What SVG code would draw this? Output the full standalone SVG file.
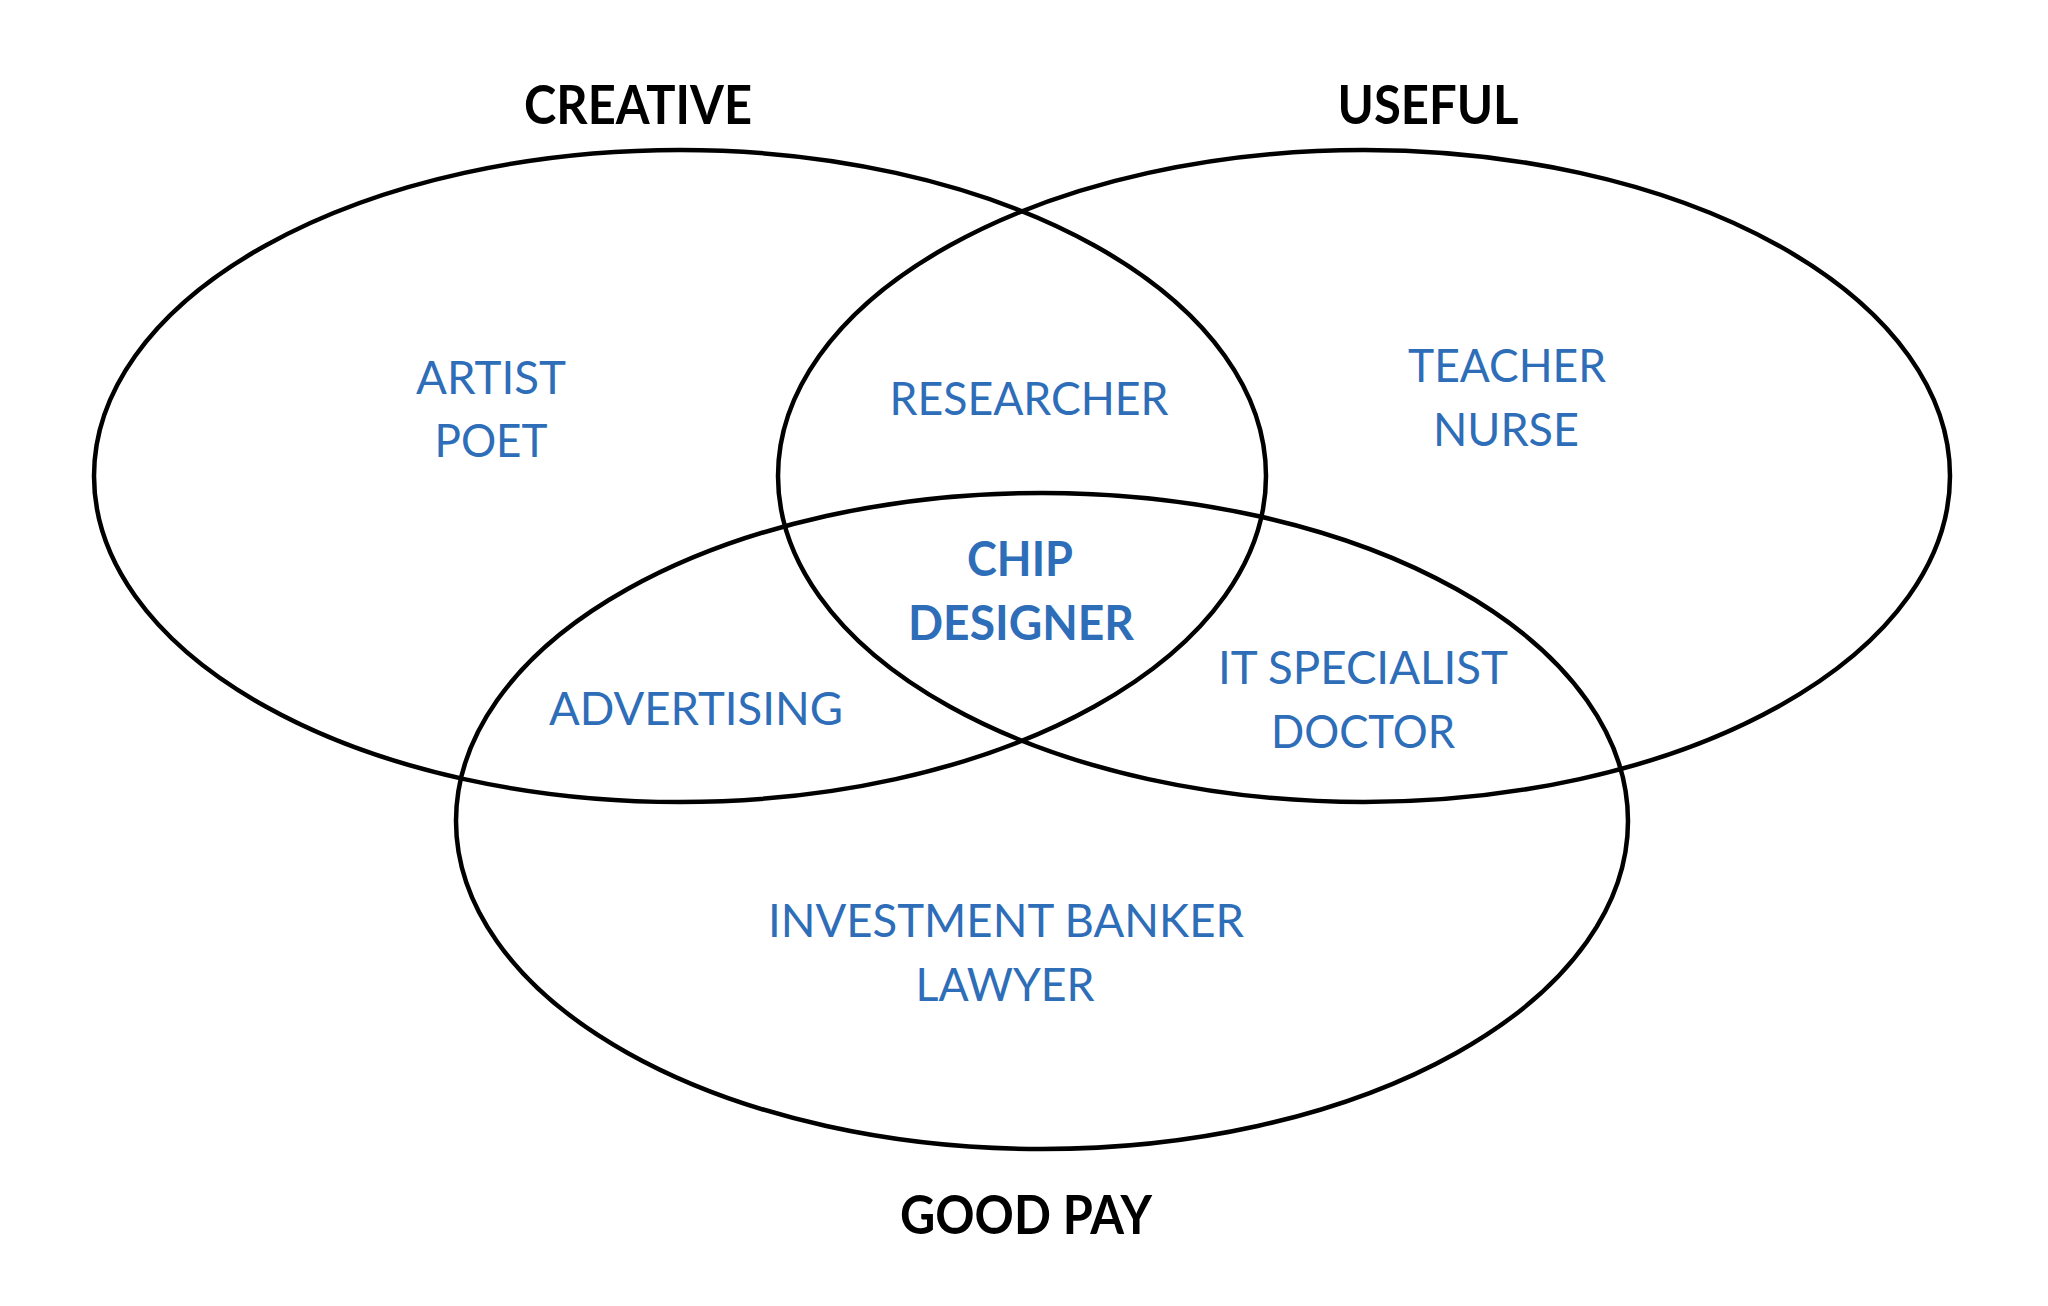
<svg xmlns="http://www.w3.org/2000/svg" width="2048" height="1306" viewBox="0 0 2048 1306">
<style>
  .set { fill: none; stroke: #000; stroke-width: 4.5; }
  .title { font-family: Lato, "Liberation Sans", sans-serif; font-weight: bold; font-size: 53px; fill: #000; text-anchor: middle; }
  .lbl { font-family: Lato, "Liberation Sans", sans-serif; font-size: 47px; fill: #2E6DB8; text-anchor: middle; }
  .lblb { font-family: Lato, "Liberation Sans", sans-serif; font-weight: bold; font-size: 48px; fill: #2E6DB8; text-anchor: middle; }
</style>
<rect width="2048" height="1306" fill="#fff"/>
<g id="sets">
  <g id="set-creative">
    <ellipse class="set" cx="680" cy="476" rx="586" ry="326"/>
    <text class="title" x="638" y="124" textLength="228" lengthAdjust="spacingAndGlyphs">CREATIVE</text>
  </g>
  <g id="set-useful">
    <ellipse class="set" cx="1364" cy="476" rx="586" ry="326"/>
    <text class="title" x="1428" y="124" textLength="181" lengthAdjust="spacingAndGlyphs">USEFUL</text>
  </g>
  <g id="set-goodpay">
    <ellipse class="set" cx="1042" cy="821" rx="586" ry="328"/>
    <text class="title" x="1026" y="1234" textLength="252" lengthAdjust="spacingAndGlyphs">GOOD PAY</text>
  </g>
</g>
<g id="region-creative">
  <text class="lbl" x="491" y="394" textLength="150" lengthAdjust="spacingAndGlyphs">ARTIST</text>
  <text class="lbl" x="491" y="457" textLength="113" lengthAdjust="spacingAndGlyphs">POET</text>
</g>
<g id="region-useful">
  <text class="lbl" x="1507" y="382" textLength="198" lengthAdjust="spacingAndGlyphs">TEACHER</text>
  <text class="lbl" x="1506" y="446" textLength="146" lengthAdjust="spacingAndGlyphs">NURSE</text>
</g>
<g id="region-creative-useful">
  <text class="lbl" x="1029" y="415" textLength="279" lengthAdjust="spacingAndGlyphs">RESEARCHER</text>
</g>
<g id="region-all">
  <text class="lblb" x="1020" y="576" textLength="106" lengthAdjust="spacingAndGlyphs">CHIP</text>
  <text class="lblb" x="1021" y="640" textLength="226" lengthAdjust="spacingAndGlyphs">DESIGNER</text>
</g>
<g id="region-creative-pay">
  <text class="lbl" x="696" y="725" textLength="294" lengthAdjust="spacingAndGlyphs">ADVERTISING</text>
</g>
<g id="region-useful-pay">
  <text class="lbl" x="1363" y="684" textLength="290" lengthAdjust="spacingAndGlyphs">IT SPECIALIST</text>
  <text class="lbl" x="1363" y="748" textLength="184" lengthAdjust="spacingAndGlyphs">DOCTOR</text>
</g>
<g id="region-pay">
  <text class="lbl" x="1006" y="937" textLength="476" lengthAdjust="spacingAndGlyphs">INVESTMENT BANKER</text>
  <text class="lbl" x="1005" y="1001" textLength="179" lengthAdjust="spacingAndGlyphs">LAWYER</text>
</g>
</svg>
